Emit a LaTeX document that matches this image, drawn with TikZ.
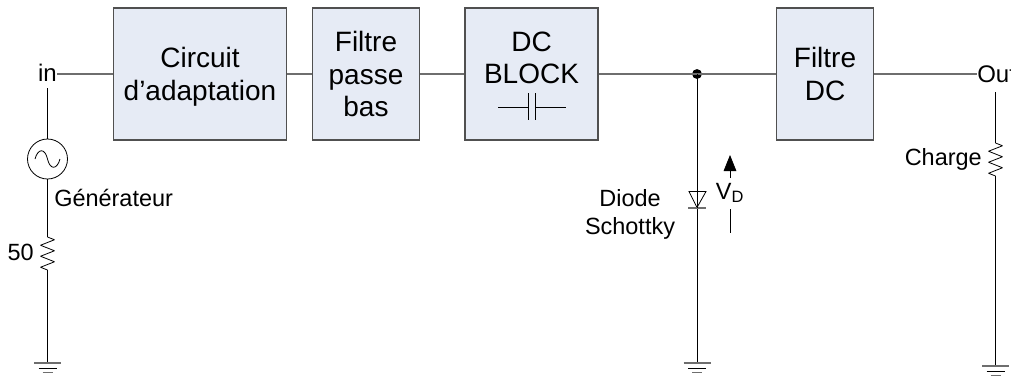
\documentclass[tikz,border=0pt]{standalone}
\usepackage{fontspec}
\setmainfont{Liberation Sans}
\usetikzlibrary{arrows.meta}
\definecolor{boxfill}{RGB}{230,235,245}
\definecolor{boxline}{RGB}{80,80,80}
\definecolor{wiregray}{RGB}{110,110,110}
\tikzset{
	blockbox/.style={draw=boxline,fill=boxfill,line width=1pt,align=center,minimum height=99pt,inner sep=0pt,font=\fontsize{21}{24.5}\selectfont},
	wire/.style={draw=wiregray,line width=1.3pt},
	lead/.style={draw=black,line width=0.6pt},
	smalltext/.style={inner sep=0pt,align=center,font=\fontsize{17.6}{21}\selectfont},
	pinlabel/.style={inner sep=0pt,font=\fontsize{18}{21}\selectfont}
}
\newcommand{\groundbars}[2]{
	\draw[wiregray,line width=1pt] (#1-13.5,#2) -- (#1+13.5,#2);
	\draw[black,line width=0.7pt] (#1-9,#2+5) -- (#1+9,#2+5);
	\draw[wiregray,line width=1pt] (#1-5,#2+9.5) -- (#1+5,#2+9.5);
}
\newcommand{\zigzag}[3]{
	\draw[lead,line join=bevel] (#1,#2) -- (#1+7,#2+#3*0.083) -- (#1-7,#2+#3*0.25) -- (#1+7,#2+#3*0.417) -- (#1-7,#2+#3*0.583) -- (#1+7,#2+#3*0.75) -- (#1-7,#2+#3*0.917) -- (#1,#2+#3);
}
\begin{document}
\begin{tikzpicture}[x=0.75pt,y=-0.75pt]
\useasboundingbox (0,0) rectangle (1011,376);

\node[pinlabel] (in) at (47.5,73) {in};
\node[blockbox,minimum width=130pt] (adapt) at (200,74) {Circuit\\\raisebox{0pt}[\height][0pt]{d’adaptation}};
\node[blockbox,minimum width=80pt] (lowpass) at (366,74) {Filtre\\passe\\bas};
\node[blockbox,minimum width=99.75pt] (dcblock) at (531.5,74) {DC\\BLOCK\\\mbox{}};
\node[blockbox,minimum width=72.4pt] (dcfilter) at (825,74) {Filtre\\DC};
\node[pinlabel,anchor=west] (out) at (977,74) {Out};
\node[circle,draw=black,line width=0.6pt,minimum size=30pt,inner sep=0pt] (gen) at (47.5,159) {};
\node[smalltext,anchor=west] (genlabel) at (54,198) {Générateur};
\node[smalltext,anchor=east] (rgen) at (34,252) {50};
\node[smalltext] (diodelabel) at (630,214) {Diode\\Schottky};
\node[smalltext,anchor=east] (charge) at (982,159.5) {Charge};
\node[inner sep=0pt,font=\fontsize{17.6}{21}\selectfont] (vd) at (730,193) {V\textsubscript{D}};
\fill (697,74) circle (3.7pt);
\coordinate (tee) at (697,74);

\coordinate (intop) at (47.5,88);
\coordinate (inwire) at (57,74);
\coordinate (rgentop) at (47.5,237);
\coordinate (rgenbot) at (47.5,270);
\coordinate (gnda) at (47.5,363);
\coordinate (diodetop) at (697,191);
\coordinate (diodebot) at (697,208);
\coordinate (gndb) at (697,363);
\coordinate (outtop) at (995.5,92);
\coordinate (rloadtop) at (995.5,143);
\coordinate (rloadbot) at (995.5,176);
\coordinate (gndc) at (995.5,366);
\coordinate (vdtip) at (730,155);
\coordinate (vdstem) at (730,178);
\coordinate (vdlow) at (730,209);
\coordinate (vdend) at (730,233);

\draw[wire] (inwire) -- (adapt);
\draw[wire] (adapt) -- (lowpass);
\draw[wire] (lowpass) -- (dcblock);
\draw[wire] (dcblock) -- (tee);
\draw[wire] (tee) -- (dcfilter);
\draw[wire] (dcfilter) -- (out);

\draw[lead] (intop) -- (gen);
\draw[lead] (gen) -- (rgentop);
\zigzag{47.5}{237}{33}
\draw[lead] (rgenbot) -- (gnda);
\groundbars{47.5}{363}
\draw[lead] (35,159) .. controls (38,148) and (45,148) .. (47.5,159) .. controls (50,170) and (57,170) .. (60,159);

\draw[lead] (tee) -- (diodetop);
\draw[lead] (diodebot) -- (gndb);
\draw[lead] (689,191.5) -- (706,191.5) -- (697,207.5) -- cycle;
\draw[wiregray,line width=0.9pt] (688,208) -- (706,208);
\draw[lead] (diodetop) -- (diodebot);
\groundbars{697}{363}

\draw[lead] (outtop) -- (rloadtop);
\zigzag{995.5}{143}{33}
\draw[lead] (rloadbot) -- (gndc);
\groundbars{995.5}{366}

\draw[lead,-{Triangle[length=12pt,width=9.5pt]}] (vdstem) -- (vdtip);
\draw[lead] (vdlow) -- (vdend);

\draw[lead] (498,107) -- (528,107);
\draw[lead] (535,107) -- (566,107);
\draw[lead] (528,93) -- (528,120);
\draw[lead] (535,93) -- (535,120);
\end{tikzpicture}
\end{document}
